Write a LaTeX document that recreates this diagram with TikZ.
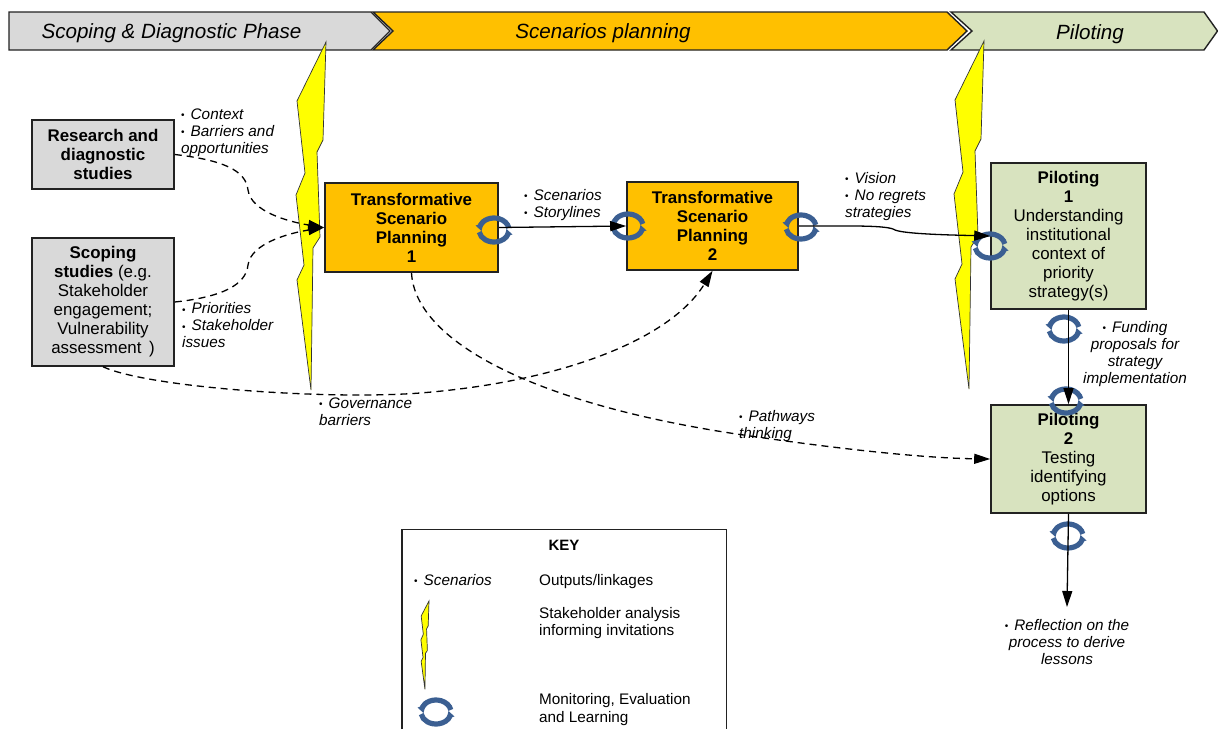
\documentclass[tikz,border=0pt]{standalone}
\usepackage{fontspec}
\setmainfont{Liberation Sans}
\usetikzlibrary{arrows.meta}
\definecolor{greyfill}{HTML}{D9D9D9}
\definecolor{orangefill}{HTML}{FFC000}
\definecolor{greenfill}{HTML}{D8E3BF}
\definecolor{ringblue}{HTML}{3B5F92}
\definecolor{edge}{HTML}{222222}
\definecolor{boltyellow}{RGB}{255,255,0}
\newcommand{\bul}{\makebox[9.5pt][l]{\fontsize{10}{10}\selectfont\upshape\raisebox{0.5pt}{•}}}
\newcommand{\boltshape}{(0,0)--(-29,59)--(-21,131)--(-30,153)--(-22,223)--(-29,238)--(-15,348)--(-13,206)--(-6,195)--(-9,110)--(-3,98)--cycle}
\tikzset{
  x=1pt,y=-1pt,
  boxnode/.style={draw=edge,line width=1.6pt,inner sep=0pt,align=center,font=\fontsize{16.9}{19}\selectfont},
  banner/.style={draw=edge,line width=1.4pt},
  bannertext/.style={font=\fontsize{20.6}{24}\selectfont\itshape,inner sep=0pt},
  notelabel/.style={inner sep=0pt,anchor=north west,align=left,font=\fontsize{15.3}{17}\selectfont\itshape},
  notecentre/.style={inner sep=0pt,anchor=north,align=center,font=\fontsize{15.3}{17}\selectfont\itshape},
  keytext/.style={inner sep=0pt,anchor=north west,align=left,font=\fontsize{15.3}{17.5}\selectfont},
  bolt/.style={draw=black!80,fill=boltyellow,line width=.7pt,line join=miter},
  link/.style={draw=black,line width=1.3pt,-{Triangle[length=16pt,width=10pt]}},
  dashlink/.style={link,dash pattern=on 7pt off 5pt},
  mel/.pic={
    \begin{scope}[x=1pt,y=1pt,ringblue]
      \draw[line width=5.2pt] (160:15pt and 12pt) arc[start angle=160,end angle=10,x radius=15pt,y radius=12pt];
      \draw[line width=5.2pt] (190:15pt and 12pt) arc[start angle=190,end angle=340,x radius=15pt,y radius=12pt];
      \fill (-18.5,4.5)--(-10.5,7)--(-12.5,-1)--cycle;
      \fill (18.5,-4.5)--(10.5,-7)--(12.5,1)--cycle;
    \end{scope}
  }
}
\begin{document}
\begin{tikzpicture}
\useasboundingbox (0,0) rectangle (1218,729);
% phase banners
\draw[banner,fill=orangefill] (373,12)--(947,12)--(967,31)--(947,50)--(373,50)--(393,31)--cycle;
\draw[banner,fill=greyfill] (9,12)--(371,12)--(390,31)--(371,50)--(9,50)--cycle;
\draw[banner,fill=greenfill] (951,12)--(1204,12)--(1217.5,31)--(1204,50)--(951,50)--(972,31)--cycle;
\node[bannertext] (phaseA) at (171.5,33) {Scoping \& Diagnostic Phase};
\node[bannertext] (phaseB) at (603,33.5) {Scenarios planning};
\node[bannertext] (phaseC) at (1090,34) {Piloting};
% stakeholder bolts
\draw[bolt,shift={(326,42)}] \boltshape;
\draw[bolt,shift={(984,41)}] \boltshape;
% boxes
\node[boxnode,fill=greyfill,minimum width=142pt,minimum height=69pt] (research) at (103,154.5) {\textbf{Research and}\\\textbf{diagnostic}\\\textbf{studies}};
\node[boxnode,fill=greyfill,minimum width=142pt,minimum height=128pt] (scoping) at (103,302) {\textbf{Scoping}\\\textbf{studies} (e.g.\\Stakeholder\\engagement;\\Vulnerability\\assessment \,)};
\node[boxnode,fill=orangefill,minimum width=173pt,minimum height=89pt] (tsp1) at (411.5,227.5) {\textbf{Transformative}\\\textbf{Scenario}\\\textbf{Planning}\\\textbf{1}};
\node[boxnode,fill=orangefill,minimum width=171pt,minimum height=88pt] (tsp2) at (712.5,226) {\textbf{Transformative}\\\textbf{Scenario}\\\textbf{Planning}\\\textbf{2}};
\node[boxnode,fill=greenfill,minimum width=155pt,minimum height=146pt] (pilot1) at (1068.5,236) {\textbf{Piloting}\\\textbf{1}\\Understanding\\institutional\\context of\\priority\\strategy(s)};
\node[boxnode,fill=greenfill,minimum width=155pt,minimum height=108pt] (pilot2) at (1068.5,459) {\textbf{Piloting}\\\textbf{2}\\Testing\\identifying\\options};
% monitoring rings
\pic at (494,230) {mel};
\pic at (628,226) {mel};
\pic at (801,227) {mel};
\pic at (990,246) {mel};
\pic at (1064,329) {mel};
\pic at (1066,401) {mel};
\pic at (1068,536) {mel};
% connectors
\coordinate (reflect) at (1067,607);
\draw[dashlink] (research.east) .. controls (222,160) and (246,170) .. (248,190) .. controls (251,212) and (290,222) .. (tsp1.west);
\draw[dashlink] (scoping.east) .. controls (222,297) and (246,285) .. (248,265) .. controls (251,243) and (290,233) .. (tsp1.west);
\draw[dashlink] (scoping.south) .. controls (150,388) and (330,400) .. (420,393) .. controls (560,382) and (670,340) .. (tsp2.south);
\draw[dashlink] (tsp1.south) .. controls (415,340) and (530,402) .. (730,433) .. controls (830,448) and (920,458) .. (pilot2.west);
\draw[link] (tsp1.east) -- (tsp2.west);
\draw[link] (tsp2.east) .. controls (850,226) and (888,225) .. (895,230) .. controls (905,234) and (950,235) .. (pilot1.west);
\draw[link] (pilot1.south) -- (pilot2.north);
\draw[link] (pilot2.south) -- (reflect);
% output labels
\node[notelabel] (noteA) at (181,108.5) {\bul Context\\\bul Barriers and\\opportunities};
\node[notelabel] (noteB) at (524,189) {\bul Scenarios\\\bul Storylines};
\node[notelabel] (noteC) at (845,172) {\bul Vision\\\bul No regrets\\strategies};
\node[notelabel] (noteD) at (182,302.5) {\bul Priorities\\\bul Stakeholder\\issues};
\node[notelabel] (noteE) at (319,397.5) {\bul Governance\\barriers};
\node[notelabel] (noteF) at (739,410) {\bul Pathways\\thinking};
\node[notecentre] (noteG) at (1135,321) {\bul Funding\\proposals for\\strategy\\implementation};
\node[notecentre] (noteH) at (1067,619) {\bul Reflection on the\\process to derive\\lessons};
% key
\draw[draw=edge,line width=1.4pt] (402,729)--(402,529.5)--(726.5,529.5)--(726.5,729);
\node[inner sep=0pt,font=\fontsize{15}{17}\selectfont\bfseries] (keytitle) at (564,545.5) {KEY};
\node[notelabel] (keyA) at (414,574) {\bul Scenarios};
\node[keytext] (keyB) at (539,574) {Outputs/linkages};
\node[keytext] (keyC) at (539,607) {Stakeholder analysis\\informing invitations};
\node[keytext] (keyD) at (539,693.5) {Monitoring, Evaluation\\and Learning};
\draw[bolt,shift={(429,601)},xscale=.27,yscale=.2536] \boltshape;
\pic at (436,712) {mel};
\end{tikzpicture}
\end{document}
